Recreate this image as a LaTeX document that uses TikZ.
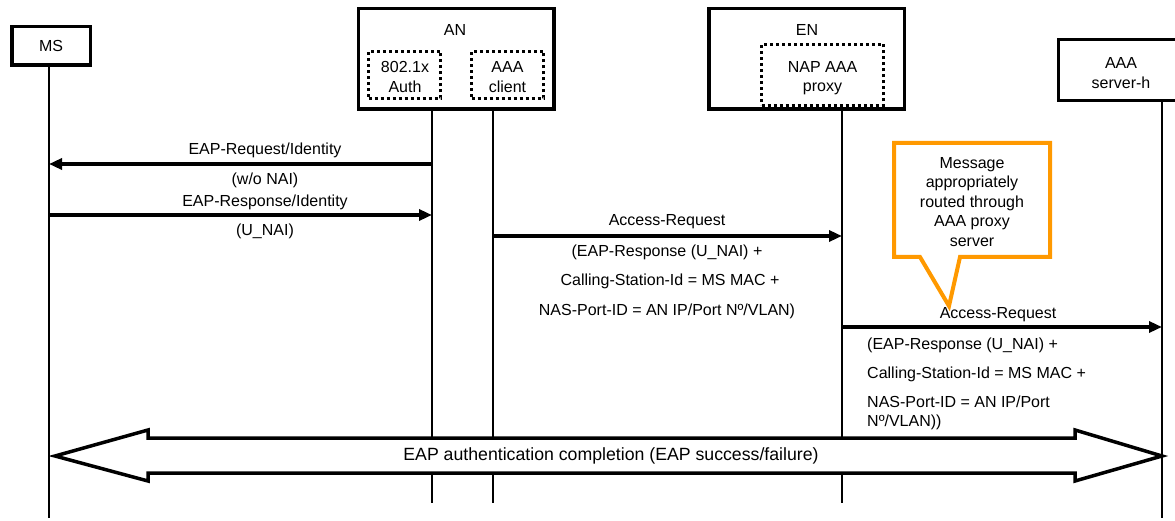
\documentclass[tikz,border=0pt]{standalone}
\usepackage{fontspec}
\setmainfont{Liberation Sans}
\usetikzlibrary{arrows.meta}
\definecolor{calloutc}{HTML}{FF9900}
\begin{document}
\begin{tikzpicture}[x=1pt,y=-1pt,
  lbl/.style={font=\fontsize{16}{19.5}\selectfont, inner sep=0pt, align=center},
  bigbox/.style={draw, line width=3.5pt, rectangle, inner sep=0pt, outer sep=0pt},
  dotbox/.style={draw, line width=3pt, dash pattern=on 3pt off 3pt, rectangle, inner sep=0pt, outer sep=0pt},
  life/.style={line width=1.4pt},
  msg/.style={line width=3.2pt, -{Triangle[length=13pt,width=11pt]}},
  callout/.style={draw=calloutc, line width=4pt, line join=miter},
  blockarrow/.style={draw=black, fill=white, line width=3.5pt, line join=miter}]
\useasboundingbox (0,0) rectangle (1175,521);
\clip (0,0) rectangle (1175,521);

% entity boxes
\node[bigbox, minimum width=78.5pt, minimum height=38.5pt] (ms) at (51,46) {};
\node[lbl] (mst) at (51,46) {MS};

\node[bigbox, minimum width=195.5pt, minimum height=100.5pt] (an) at (456,59) {};
\node[lbl] (ant) at (455,30) {AN};
\node[dotbox, minimum width=72pt, minimum height=47pt] (auth) at (404.5,75) {};
\node[lbl] (autht) at (405,77) {802.1x\\Auth};
\node[dotbox, minimum width=72pt, minimum height=47pt] (aaac) at (507.5,75) {};
\node[lbl] (aaact) at (507.5,77) {AAA\\client};

\node[bigbox, minimum width=195.5pt, minimum height=100.5pt] (en) at (806.5,59) {};
\node[lbl] (ent) at (807,30) {EN};
\node[dotbox, minimum width=122pt, minimum height=61pt] (nap) at (822.5,75) {};
\node[lbl] (napt) at (822.5,78) {NAP AAA\\proxy};

\node[bigbox, line width=3.3pt, minimum width=120pt, minimum height=61pt] (srv) at (1118.5,70) {};
\node[lbl] (srvt) at (1121,73) {AAA\\server-h};

% lifeline ends
\coordinate (msE) at (49,518);
\coordinate (an1E) at (432,503);
\coordinate (an2E) at (493,503);
\coordinate (enE) at (842,503);
\coordinate (srvE) at (1162,518);

\draw[life] (ms.south -| msE) -- (msE);
\draw[life] (an.south -| an1E) -- (an1E);
\draw[life] (an.south -| an2E) -- (an2E);
\draw[life] (nap.south -| enE) -- (enE);
\draw[life] (srv.south -| srvE) -- (srvE);

% message points
\coordinate (m1a) at (432,164);
\coordinate (m1b) at (49,164);
\coordinate (m2a) at (49,215);
\coordinate (m2b) at (432,215);
\coordinate (m3a) at (493,236);
\coordinate (m3b) at (842,236);
\coordinate (m4a) at (842,327);
\coordinate (m4b) at (1162,327);

\draw[msg] (m1a) -- (m1b);
\node[lbl] (l1a) at (265,150) {EAP-Request/Identity};
\node[lbl] (l1b) at (265,180) {(w/o NAI)};

\draw[msg] (m2a) -- (m2b);
\node[lbl] (l2a) at (265,202) {EAP-Response/Identity};
\node[lbl] (l2b) at (265,231) {(U\_NAI)};

\draw[msg] (m3a) -- (m3b);
\node[lbl] (l3a) at (667,222) {Access-Request};
\node[lbl] (l3b) at (667,252) {(EAP-Response (U\_NAI) +};
\node[lbl] (l3c) at (670,281) {Calling-Station-Id = MS MAC +};
\node[lbl] (l3d) at (667,311) {NAS-Port-ID = AN IP/Port Nº/VLAN)};

\draw[msg] (m4a) -- (m4b);
\node[lbl] (l4a) at (998,315) {Access-Request};
\node[lbl, anchor=west] (l4b) at (867,345) {(EAP-Response (U\_NAI) +};
\node[lbl, anchor=west] (l4c) at (867,374) {Calling-Station-Id = MS MAC +};
\node[lbl, anchor=west, align=left] (l4d) at (867,413) {NAS-Port-ID = AN IP/Port\\Nº/VLAN))};

% callout
\draw[callout] (894,143) -- (1050,143) -- (1050,257) -- (960,257) -- (949,306) -- (920,257) -- (894,257) -- cycle;
\node[lbl] (cot) at (972,202) {Message\\appropriately\\routed through\\AAA proxy\\server};

% block double arrow
\draw[blockarrow] (55,456) -- (148,430) -- (148,438) -- (1075,438) -- (1075,430) -- (1162,456)
  -- (1075,481) -- (1075,473) -- (148,473) -- (148,481) -- cycle;
\node[lbl, font=\fontsize{17.7}{20}\selectfont] (bat) at (611,456) {EAP authentication completion (EAP success/failure)};
\end{tikzpicture}
\end{document}
